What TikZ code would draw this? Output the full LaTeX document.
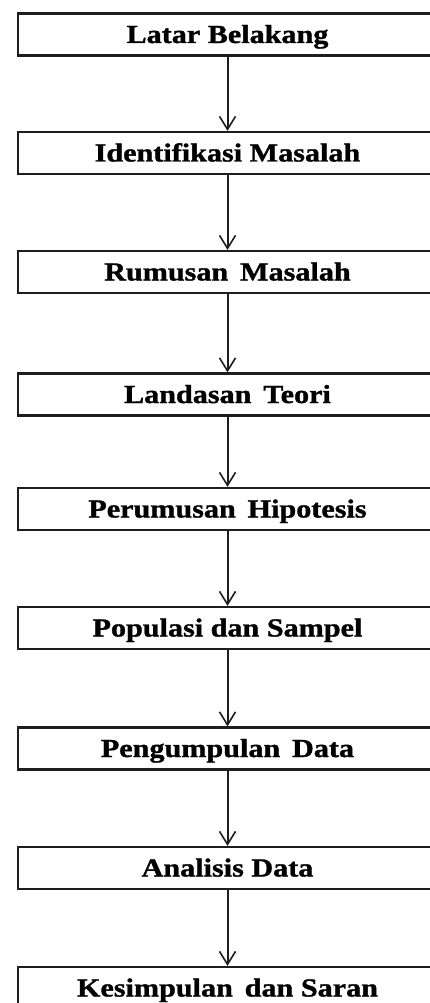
\documentclass[tikz,border=0pt]{standalone}
\usepackage{fontspec}
\setmainfont{Liberation Serif}
\newfontfamily\stepfont{Liberation Serif}[FakeStretch=1.16, FakeBold=1.2]
\usetikzlibrary{arrows.meta,positioning}
\definecolor{FlowInk}{RGB}{30,30,30}

\begin{document}
\begin{tikzpicture}[x=1pt, y=1pt,
    stepbox/.style={draw=FlowInk, line width=2.2pt, minimum width=419pt, minimum height=42pt,
        inner sep=0pt, text height=17pt, text depth=0pt,
        font=\stepfont\bfseries\fontsize{26}{26}\selectfont},
    flow/.style={FlowInk, line width=2pt, -{Straight Barb[length=13pt, width=16pt, line width=1.6pt]}}]
    \useasboundingbox (0,0) rectangle (430,-1003);
    \clip (0,0) rectangle (430,-1003);

    % Steps of the research
    \node[stepbox] (latar) at (227.5,-34.5) {Latar Belakang};
    \node[stepbox] (identifikasi) at (227.5,-153) {Identifikasi Masalah};
    \node[stepbox] (rumusan) at (227.5,-272) {Rumusan\, Masalah};
    \node[stepbox] (landasan) at (227.5,-394.5) {Landasan\, Teori};
    \node[stepbox] (hipotesis) at (227.5,-509) {Perumusan\, Hipotesis};
    \node[stepbox] (populasi) at (227.5,-628) {Populasi dan Sampel};
    \node[stepbox] (pengumpulan) at (227.5,-748.5) {Pengumpulan\, Data};
    \node[stepbox] (analisis) at (227.5,-868) {Analisis Data};
    \node[stepbox] (kesimpulan) at (227.5,-988) {Kesimpulan\, dan Saran};

    % Arrows
    \draw[flow] (latar) -- (identifikasi);
    \draw[flow] (identifikasi) -- (rumusan);
    \draw[flow] (rumusan) -- (landasan);
    \draw[flow] (landasan) -- (hipotesis);
    \draw[flow] (hipotesis) -- (populasi);
    \draw[flow] (populasi) -- (pengumpulan);
    \draw[flow] (pengumpulan) -- (analisis);
    \draw[flow] (analisis) -- (kesimpulan);
\end{tikzpicture}
\end{document}
